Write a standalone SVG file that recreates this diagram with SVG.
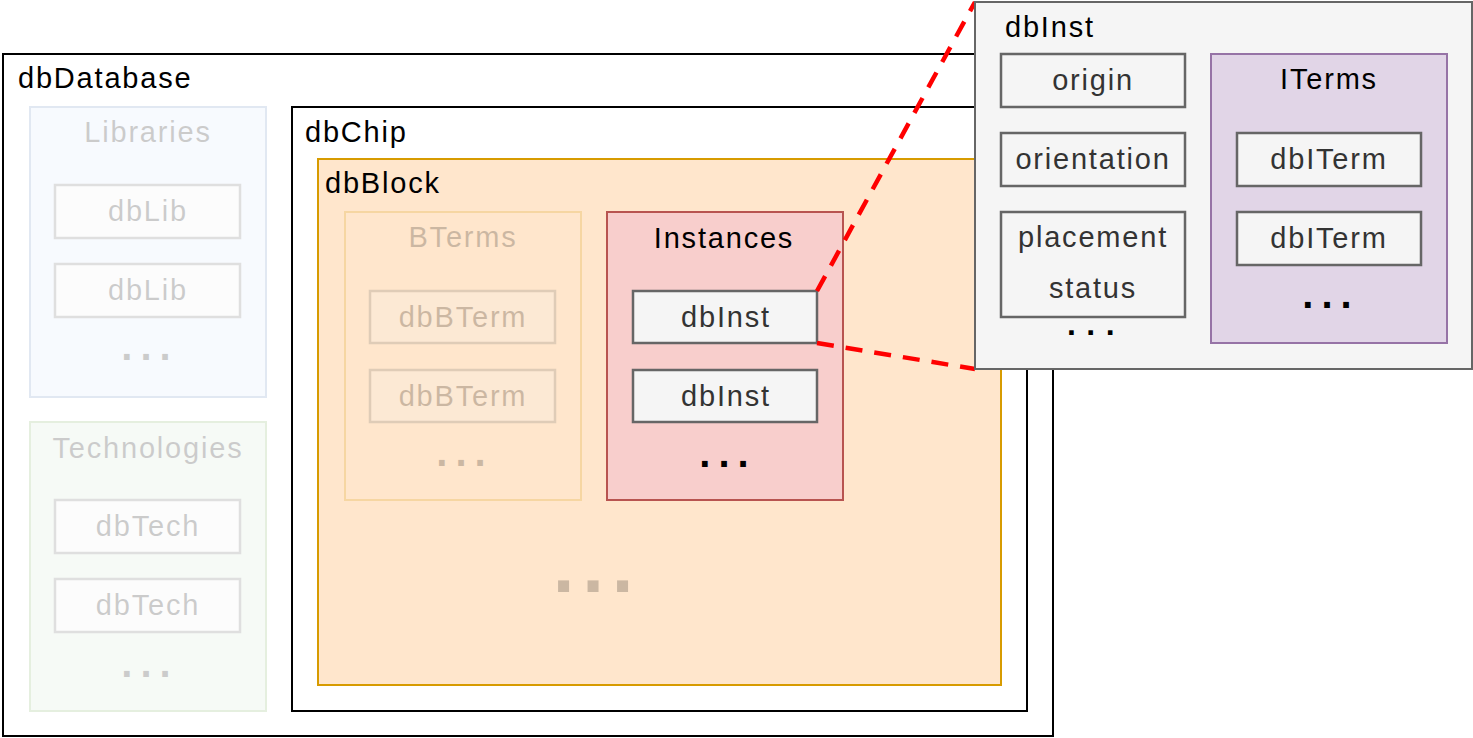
<svg xmlns="http://www.w3.org/2000/svg" width="1473" height="738" viewBox="0 0 1473 738">
<style>
text{font-family:"Liberation Sans",Arial,sans-serif;font-size:29px;letter-spacing:1.8px;fill:#000}
.c{text-anchor:middle}
.box{fill:#f5f5f5;stroke:#666;stroke-width:2.5}
.bt{fill:#333}
.dots{font-weight:bold;font-size:40px;letter-spacing:8px;text-anchor:middle}
.sdots{font-weight:bold;font-size:32px;letter-spacing:10.5px;text-anchor:middle}
.big{font-weight:bold;font-size:78px;letter-spacing:7.8px;text-anchor:middle}
.faded{opacity:0.2}
.link{fill:none;stroke:#ff0000;stroke-width:4.5;stroke-dasharray:17 12}
</style>
<g id="dbDatabase">
<rect x="3" y="54" width="1050" height="682" fill="#fff" stroke="#000" stroke-width="2"/>
<text x="18" y="88">dbDatabase</text>
</g>
<g id="libraries" class="faded">
<rect x="30" y="107" width="236" height="290" fill="#dae8fc" stroke="#6c8ebf" stroke-width="2"/>
<text class="c" x="148" y="142">Libraries</text>
<rect class="box" x="55" y="185" width="185" height="53"/>
<text class="c" x="148" y="221">dbLib</text>
<rect class="box" x="55" y="264" width="185" height="53"/>
<text class="c" x="148" y="300">dbLib</text>
<text class="dots" x="150" y="360">...</text>
</g>
<g id="technologies" class="faded">
<rect x="30" y="422" width="236" height="289" fill="#d5e8d4" stroke="#82b366" stroke-width="2"/>
<text class="c" x="148" y="458">Technologies</text>
<rect class="box" x="55" y="500" width="185" height="53"/>
<text class="c" x="148" y="536">dbTech</text>
<rect class="box" x="55" y="579" width="185" height="53"/>
<text class="c" x="148" y="615">dbTech</text>
<text class="dots" x="150" y="677">...</text>
</g>
<g id="dbChip">
<rect x="292" y="107" width="735" height="604" fill="#fff" stroke="#000" stroke-width="2"/>
<text x="305" y="142">dbChip</text>
</g>
<g id="dbBlock">
<rect x="318" y="159" width="683" height="526" fill="#ffe6cc" stroke="#d79b00" stroke-width="2"/>
<text x="325" y="193">dbBlock</text>
<text class="big" x="597" y="592" style="fill:#000;opacity:0.2">...</text>
</g>
<g id="bterms" class="faded">
<rect x="345" y="212" width="236" height="288" fill="#ffe6cc" stroke="#d79b00" stroke-width="2"/>
<text class="c" x="463" y="247">BTerms</text>
<rect class="box" x="370" y="291" width="185" height="52"/>
<text class="c" x="463" y="327">dbBTerm</text>
<rect class="box" x="370" y="370" width="185" height="52"/>
<text class="c" x="463" y="406">dbBTerm</text>
<text class="dots" x="465" y="466">...</text>
</g>
<g id="instances">
<rect x="607" y="212" width="236" height="288" fill="#f8cecc" stroke="#b85450" stroke-width="2"/>
<text class="c" x="724" y="248">Instances</text>
<rect class="box" x="633" y="291" width="184" height="52"/>
<text class="c bt" x="726" y="327">dbInst</text>
<rect class="box" x="633" y="370" width="184" height="52"/>
<text class="c bt" x="726" y="406">dbInst</text>
<text class="dots" x="728" y="467">...</text>
</g>
<g id="connectors">
<line class="link" x1="817" y1="291" x2="975" y2="2"/>
<line class="link" x1="817" y1="343" x2="975" y2="369"/>
</g>
<g id="dbInstDetail">
<rect x="975" y="2" width="497" height="367" fill="#f5f5f5" stroke="#666" stroke-width="2"/>
<text x="1005" y="37">dbInst</text>
<rect class="box" x="1001" y="54" width="184" height="53"/>
<text class="c bt" x="1093" y="90">origin</text>
<rect class="box" x="1001" y="133" width="184" height="53"/>
<text class="c bt" x="1093" y="169">orientation</text>
<rect class="box" x="1001" y="212" width="184" height="105"/>
<text class="c bt" x="1093" y="247">placement</text>
<text class="c bt" x="1093" y="298">status</text>
<text class="sdots" x="1096" y="335">...</text>
</g>
<g id="iterms">
<rect x="1211" y="54" width="236" height="289" fill="#e1d5e7" stroke="#9673a6" stroke-width="2"/>
<text class="c" x="1329" y="89">ITerms</text>
<rect class="box" x="1237" y="133" width="184" height="53"/>
<text class="c bt" x="1329" y="169">dbITerm</text>
<rect class="box" x="1237" y="212" width="184" height="53"/>
<text class="c bt" x="1329" y="248">dbITerm</text>
<text class="dots" x="1331" y="308">...</text>
</g>
</svg>
